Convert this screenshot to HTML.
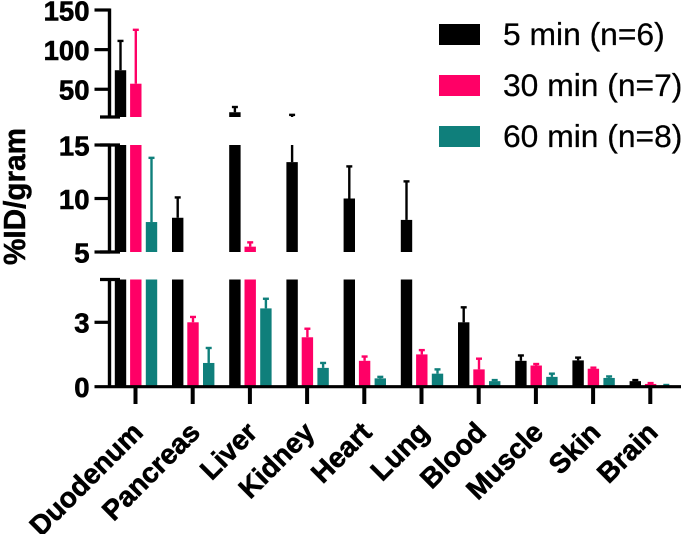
<!DOCTYPE html>
<html>
<head>
<meta charset="utf-8">
<style>
html,body{margin:0;padding:0;background:#fff;}
svg{display:block;}
text{font-family:"Liberation Sans",sans-serif;fill:#000;}
</style>
</head>
<body>
<svg id="chart" xmlns="http://www.w3.org/2000/svg" width="685" height="534" viewBox="0 0 685 534">
  <g>
    <rect x="439" y="24" width="41" height="21" fill="#000"/>
    <text x="503" y="45" font-size="31.8" stroke="#000" stroke-width="0.25">5 min (n=6)</text>
    <rect x="439" y="75" width="41" height="21" fill="#ff0066"/>
    <text x="503" y="96" font-size="31.8" stroke="#000" stroke-width="0.25">30 min (n=7)</text>
    <rect x="439" y="126" width="41" height="21" fill="#0f7f7b"/>
    <text x="503" y="147" font-size="31.8" stroke="#000" stroke-width="0.25">60 min (n=8)</text>
  </g>
  <text transform="translate(25,265) rotate(-90)" font-size="31" font-weight="bold" stroke="#000" stroke-width="0.5" textLength="137" lengthAdjust="spacingAndGlyphs">%ID/gram</text>
</svg>
<script>
const categories = ["Duodenum","Pancreas","Liver","Kidney","Heart","Lung","Blood","Muscle","Skin","Brain"];
const seriesNames = ["5-min","30-min","60-min"];
const seriesColors = ["#000000","#ff0066","#0f7f7b"];
const means5 = [74,8.2,21,13.4,10,8,3.0,1.2,1.22,0.25];
const means30 = [57,3.0,5.5,2.3,1.2,1.5,0.8,0.98,0.83,0.12];
const means60 = [7.8,1.1,3.65,0.87,0.38,0.6,0.25,0.45,0.4,0.05];
const errTop5 = [111,10.1,27.6,17.7,13,11.6,3.7,1.45,1.35,0.3];
const errTop30 = [125,3.25,5.9,2.7,1.4,1.7,1.3,1.05,0.88,0.16];
const errTop60 = [13.8,1.8,4.1,1.1,0.45,0.8,0.3,0.6,0.47,0.07];
const ticksTop = [50,100,150];
const ticksMid = [5,10,15];
const ticksLow = [0,3];

const means = [means5,means30,means60];
const errs = [errTop5,errTop30,errTop60];
const svg = document.getElementById('chart');
const NS = 'http://www.w3.org/2000/svg';

const panels = [
  {name:'top', lo:15, hi:150, yLo:117, yHi:10, ticks:ticksTop},
  {name:'middle', lo:5, hi:15, yLo:252, yHi:145, ticks:ticksMid},
  {name:'bottom', lo:0, hi:5, yLo:386.5, yHi:279.5, ticks:ticksLow}
];
function yScale(p, v){ return p.yLo - (v - p.lo) / (p.hi - p.lo) * (p.yLo - p.yHi); }
function xScale(i){ return 135.5 + i * 57.2; }
const barOffsets = [-15, 0.3, 16];
const barWidth = 11.4;

function shape(tag, props){
  const el = document.createElementNS(NS, tag);
  for (const k in props) el.setAttribute(k, props[k]);
  return el;
}

// bars and error bars, per axis segment
panels.forEach(function(p){
  categories.forEach(function(cat, i){
    means.forEach(function(series, s){
      const v = series[i], e = errs[s][i], col = seriesColors[s];
      const cx = xScale(i) + barOffsets[s];
      if (v > p.lo) {
        const top = yScale(p, Math.min(v, p.hi));
        const bar = shape('rect', {x:cx - barWidth/2, y:top, width:barWidth, height:p.yLo - top, fill:col});
        
        
        svg.appendChild(bar);
      }
      if (e > p.lo && v < p.hi) {
        const y1 = yScale(p, Math.max(v, p.lo));
        const y2 = yScale(p, Math.min(e, p.hi));
        const stem = shape('line', {x1:cx, x2:cx, y1:y1, y2:y2, stroke:col, 'stroke-width':2.4});
        
        
        svg.appendChild(stem);
        if (e <= p.hi) {
          const cap = shape('line', {x1:cx - 3, x2:cx + 3, y1:y2, y2:y2, stroke:col, 'stroke-width':2.4});
          
          
          svg.appendChild(cap);
        }
      }
    });
  });
});

// y axis segments
const axisX = 109.5;
panels.forEach(function(p){
  const line = shape('line', {x1:axisX, x2:axisX, y1:p.yLo + 1.5, y2:p.yHi - 1.5, stroke:'#000', 'stroke-width':3.4});
  
  
  svg.appendChild(line);

  if (p.name !== 'top') {
    const capHi = shape('line', {x1:100, x2:120, y1:p.yHi, y2:p.yHi, stroke:'#000', 'stroke-width':3.2});
    
    
    svg.appendChild(capHi);
  }
  if (p.name !== 'bottom') {
    const capLo = shape('line', {x1:100, x2:120, y1:p.yLo, y2:p.yLo, stroke:'#000', 'stroke-width':3.2});
    
    
    svg.appendChild(capLo);
  }

  p.ticks.forEach(function(t){
    const y = yScale(p, t);
    if (t !== 0) {
      const tick = shape('line', {x1:94.5, x2:110, y1:y, y2:y, stroke:'#000', 'stroke-width':3.2});
      
      
      svg.appendChild(tick);
    }
    const label = shape('text', {x:89.5, y:y + 10.4, 'text-anchor':'end', 'font-size':27.5, 'font-weight':'bold', stroke:'#000', 'stroke-width':0.6});
    
    
    label.textContent = String(t);
    svg.appendChild(label);
  });
});

// x axis
const xAxis = shape('line', {x1:94.5, x2:681, y1:386.7, y2:386.7, stroke:'#000', 'stroke-width':3.2});


svg.appendChild(xAxis);

categories.forEach(function(cat, i){
  const x = xScale(i);
  const tick = shape('line', {x1:x, x2:x, y1:387, y2:404, stroke:'#000', 'stroke-width':4});
  
  
  svg.appendChild(tick);

  const label = shape('text', {'text-anchor':'end', 'font-size':28, 'font-weight':'bold', stroke:'#000', 'stroke-width':0.6, transform:'translate(' + (x + 9) + ',434) rotate(-45)'});
  
  
  label.textContent = cat;
  svg.appendChild(label);
});
</script>
</body>
</html>
